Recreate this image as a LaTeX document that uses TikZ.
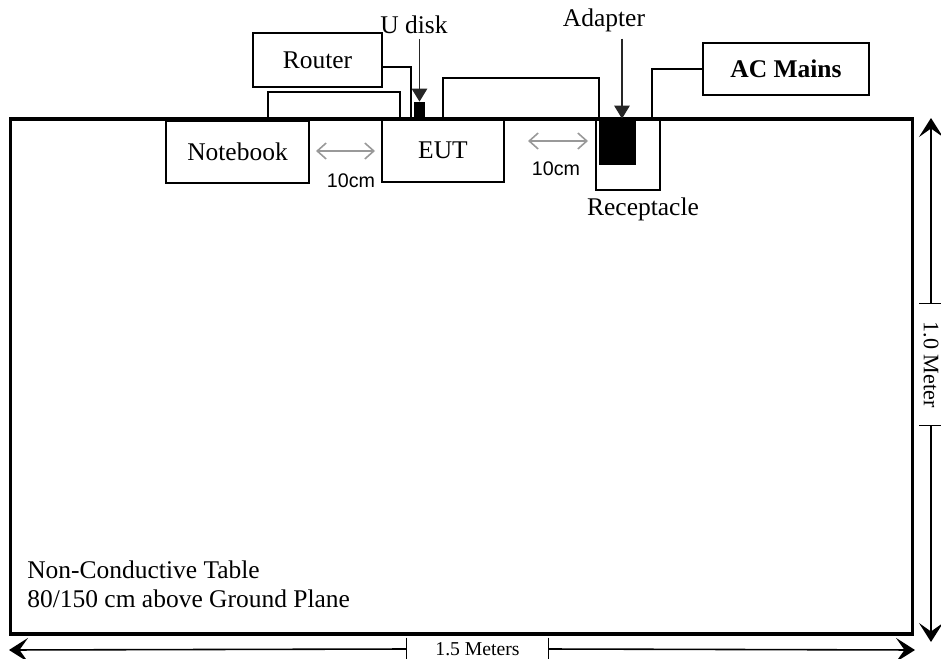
\documentclass[tikz,border=0pt]{standalone}
\usepackage{fontspec}
\setmainfont{Liberation Serif}
\newfontfamily\arialfont{Liberation Sans}
\usetikzlibrary{arrows.meta}

\begin{document}
\begin{tikzpicture}[x=0.02cm,y=-0.02cm,
  every node/.style={font=\fontsize{14.5}{17}\selectfont},
  box/.style={draw,line width=1.1pt,inner sep=0pt},
  plug/.style={fill=black,inner sep=0pt},
  cable/.style={line width=1pt},
  gaparrow/.style={black!40,line width=0.9pt,{Straight Barb[length=1.8mm,width=3.2mm]}-{Straight Barb[length=1.8mm,width=3.2mm]}},
  pointer/.style={black!85,line width=0.7pt,-{Triangle[length=2.6mm,width=3.1mm]}},
  dimline/.style={line width=0.9pt,-{Stealth[length=3.8mm,width=4.8mm,inset=1.7mm]}},
  cmlbl/.style={font=\arialfont\fontsize{11.2}{13}\selectfont},
  dimlbl/.style={font=\fontsize{11.2}{13}\selectfont,inner sep=0pt}]
\useasboundingbox (0,0) rectangle (941,659);

\node[box,line width=1.8pt,minimum width=180.6mm,minimum height=103mm] (table) at (461.5,376.5) {};
\node[anchor=west,align=left,inner sep=0pt,font=\fontsize{14.5}{16.5}\selectfont] (tabletxt) at (27,584) {Non-Conductive Table\\80/150 cm above Ground Plane};

\node[box,minimum width=25.8mm,minimum height=10.8mm] (router) at (317.5,60) {Router};
\node[box,minimum width=28.6mm,minimum height=12.4mm] (notebook) at (237.5,152) {Notebook};
\node[box,minimum width=24.4mm,minimum height=12.6mm] (eut) at (443,150.5) {EUT};
\node[box,minimum width=12.8mm,minimum height=14.2mm] (recept) at (628,154.5) {};
\node[plug,minimum width=7.4mm,minimum height=9.2mm] (adapter) at (617.5,142) {};
\node[plug,minimum width=2.2mm,minimum height=3.4mm] (udisk) at (419.5,110.5) {};
\node[box,minimum width=33.2mm,minimum height=10.4mm,font=\bfseries\fontsize{14.5}{17}\selectfont] (acmains) at (786,69) {AC Mains};

\node[anchor=base] (udisklbl) at (414,33) {U disk};
\node[anchor=base] (adapterlbl) at (604,27) {Adapter};
\node[anchor=base] (receptlbl) at (643,215) {Receptacle};

\draw[cable] (268,0 |- table.north) |- (400,92) -- (400,0 |- table.north);
\draw[cable] (router.east |- 0,67) -| (411,0 |- table.north);
\draw[cable] (eut.north) |- (adapter.north west |- 0,78) -- (adapter.north west);
\draw[cable] (652,0 |- recept.north) |- (acmains.west);

\draw[pointer] (udisk.north |- udisklbl.south) -- (udisk.north);
\coordinate (adtip) at ([xshift=0.9mm]adapter.north);
\draw[pointer] (adtip |- adapterlbl.south) -- (adtip);

\coordinate (gapa) at (316,151);
\coordinate (gapb) at (375,151);
\draw[gaparrow] (gapa) -- (gapb);
\node[cmlbl,anchor=base] (gaplbl) at (351,187) {10cm};
\coordinate (gapc) at (528,141);
\coordinate (gapd) at (588,141);
\draw[gaparrow] (gapc) -- (gapd);
\node[cmlbl,anchor=base] (gaplbl2) at (556,175) {10cm};

\node[dimlbl,minimum width=28.2mm,minimum height=4.4mm] (widthlbl) at (477.5,649) {1.5 Meters};
\draw[line width=0.8pt] (widthlbl.north west) -- (widthlbl.south west) (widthlbl.north east) -- (widthlbl.south east);
\coordinate (wl) at (9,650);
\coordinate (wr) at (915,650);
\draw[dimline] (widthlbl.west) -- (wl);
\draw[dimline] (widthlbl.east) -- (wr);

\node[dimlbl,rotate=-90,minimum width=24.2mm,minimum height=4.8mm,font=\fontsize{12.6}{14}\selectfont] (heightlbl) at (931,364.5) {1.0 Meter};
\draw[line width=0.8pt] (heightlbl.north west) -- (heightlbl.south west) (heightlbl.north east) -- (heightlbl.south east);
\coordinate (ht) at (931,118);
\coordinate (hb) at (931,642);
\draw[dimline] (heightlbl.west) -- (ht);
\draw[dimline] (heightlbl.east) -- (hb);
\end{tikzpicture}
\end{document}
